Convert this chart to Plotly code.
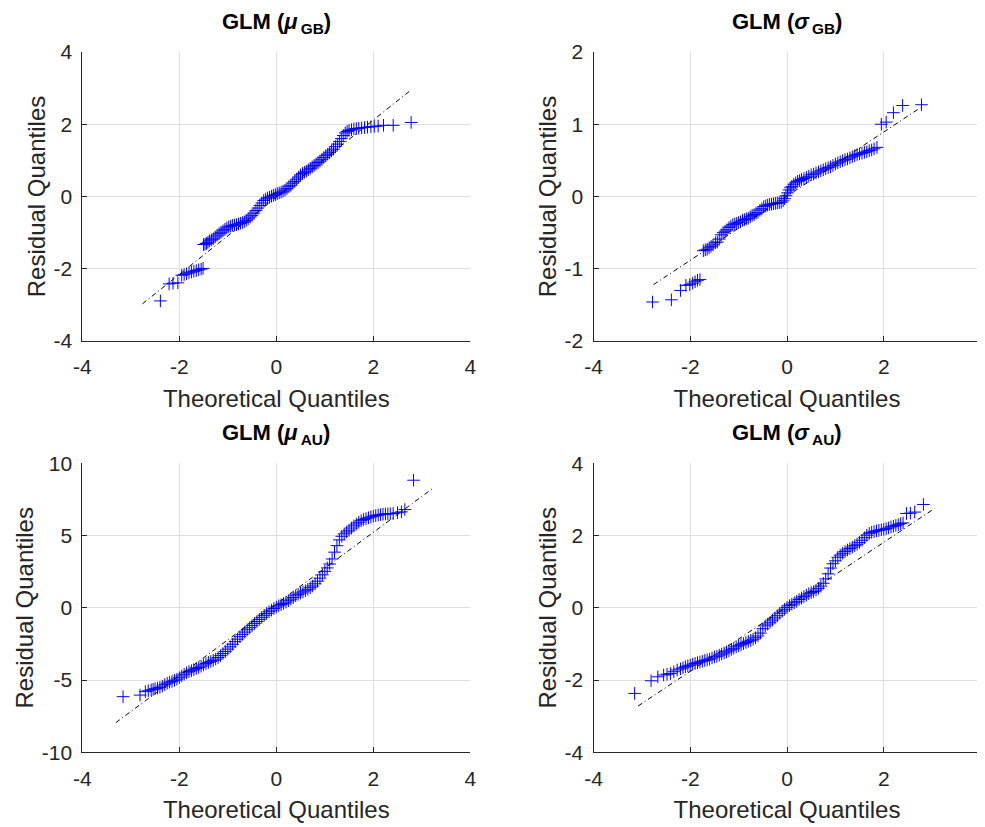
import plotly.graph_objects as go

# page body has an 8px margin, so the figure is drawn from (8, 8)
OFF = 8
W, H = 985 - OFF, 827 - OFF

# ---------------- data ----------------
titles = ["<b>GLM (<i>μ</i><sub>\u2009GB</sub>)</b>", "<b>GLM (<i>σ</i><sub>\u2009GB</sub>)</b>",
          "<b>GLM (<i>μ</i><sub>\u2009AU</sub>)</b>", "<b>GLM (<i>σ</i><sub>\u2009AU</sub>)</b>"]
x_label = "Theoretical Quantiles"
y_label = "Residual Quantiles"

p1_x = [-2.39, -2.21, -2.13, -2.03, -1.95, -1.90, -1.85, -1.80, -1.75, -1.70, -1.65, -1.60, -1.55, -1.51,
        -1.50, -1.47, -1.44, -1.41, -1.38, -1.34, -1.30, -1.26, -1.22, -1.18, -1.14, -1.10, -1.06, -1.02,
        -0.98, -0.94, -0.90, -0.86, -0.82, -0.78, -0.74, -0.70, -0.66, -0.62, -0.58, -0.54, -0.50, -0.46,
        -0.42, -0.38, -0.34, -0.30, -0.26, -0.22, -0.18, -0.14, -0.10, -0.06, -0.02, 0.02, 0.06, 0.10,
        0.14, 0.18, 0.22, 0.26, 0.30, 0.34, 0.38, 0.42, 0.46, 0.50, 0.54, 0.58, 0.62, 0.66, 0.70, 0.74,
        0.78, 0.82, 0.86, 0.90, 0.94, 0.98, 1.02, 1.06, 1.10, 1.14, 1.18, 1.22, 1.26, 1.30, 1.34, 1.38,
        1.42, 1.46, 1.50, 1.55, 1.60, 1.65, 1.70, 1.76, 1.82, 1.88, 1.95, 2.02, 2.10, 2.21, 2.41, 2.78]
p1_y = [-2.89, -2.42, -2.40, -2.39, -2.18, -2.16, -2.14, -2.11, -2.09, -2.07, -2.05, -2.03, -2.01, -1.99,
        -1.33, -1.32, -1.30, -1.27, -1.23, -1.20, -1.17, -1.12, -1.07, -1.03, -0.99, -0.95, -0.91, -0.87,
        -0.84, -0.82, -0.80, -0.79, -0.78, -0.76, -0.74, -0.72, -0.70, -0.66, -0.62, -0.57, -0.52, -0.46,
        -0.39, -0.32, -0.25, -0.18, -0.11, -0.07, -0.04, -0.02, 0.01, 0.03, 0.05, 0.08, 0.10, 0.12,
        0.15, 0.18, 0.22, 0.27, 0.31, 0.37, 0.42, 0.48, 0.54, 0.60, 0.64, 0.67, 0.70, 0.74, 0.78, 0.82,
        0.86, 0.90, 0.94, 0.98, 1.03, 1.08, 1.13, 1.17, 1.21, 1.26, 1.31, 1.38, 1.45, 1.52, 1.60, 1.69,
        1.76, 1.80, 1.83, 1.85, 1.87, 1.88, 1.89, 1.90, 1.91, 1.92, 1.93, 1.94, 1.95, 1.97, 1.97, 2.05]

p2_x = [-2.78, -2.39, -2.20, -2.09, -2.01, -1.95, -1.90, -1.85, -1.80,
        -1.73, -1.69, -1.65, -1.61, -1.57, -1.53, -1.48, -1.44, -1.40, -1.36, -1.32, -1.28, -1.24, -1.20,
        -1.16, -1.12, -1.08, -1.04, -1.00, -0.96, -0.92, -0.88, -0.84, -0.80, -0.76, -0.72, -0.68, -0.64,
        -0.60, -0.56, -0.52, -0.48, -0.44, -0.40, -0.36, -0.32, -0.28, -0.24, -0.20, -0.16, -0.12, -0.08,
        -0.05, -0.02, 0.01, 0.04, 0.07, 0.10, 0.14, 0.18, 0.22, 0.26, 0.30, 0.35, 0.40, 0.45, 0.50, 0.55,
        0.60, 0.65, 0.70, 0.75, 0.80, 0.85, 0.90, 0.95, 1.00, 1.05, 1.10, 1.15, 1.20, 1.25, 1.30, 1.35,
        1.40, 1.45, 1.50, 1.55, 1.60, 1.65, 1.70, 1.75, 1.80, 1.86,
        1.95, 2.05, 2.20, 2.39, 2.78]
p2_y = [-1.46, -1.43, -1.30, -1.23, -1.22, -1.20, -1.18, -1.16, -1.15,
        -0.75, -0.74, -0.73, -0.71, -0.69, -0.67, -0.64, -0.63, -0.59, -0.53, -0.50, -0.48, -0.46, -0.43,
        -0.41, -0.39, -0.38, -0.37, -0.36, -0.35, -0.33, -0.32, -0.31, -0.30, -0.28, -0.26, -0.25, -0.23,
        -0.22, -0.19, -0.17, -0.14, -0.13, -0.12, -0.11, -0.105, -0.10, -0.095, -0.09, -0.085, -0.08, -0.06,
        -0.03, 0.01, 0.05, 0.09, 0.12, 0.14, 0.17, 0.19, 0.21, 0.22, 0.235, 0.25, 0.265, 0.28, 0.30, 0.31,
        0.325, 0.34, 0.355, 0.37, 0.385, 0.40, 0.41, 0.43, 0.45, 0.465, 0.48, 0.495, 0.51, 0.52, 0.535, 0.55,
        0.565, 0.58, 0.59, 0.60, 0.61, 0.62, 0.635, 0.645, 0.66, 0.68,
        1.00, 1.03, 1.16, 1.26, 1.27]

p3_x = [-3.16, -2.81, -2.70, -2.64, -2.58, -2.54,
        -2.50, -2.45, -2.40, -2.35, -2.30, -2.25, -2.20, -2.15, -2.10, -2.05, -2.00, -1.95, -1.90, -1.85,
        -1.80, -1.75, -1.70, -1.65, -1.60, -1.55, -1.50, -1.45, -1.40, -1.35, -1.30, -1.25, -1.20, -1.15,
        -1.10, -1.05, -1.00, -0.95, -0.90, -0.85, -0.80, -0.75, -0.70, -0.65, -0.60, -0.55, -0.50, -0.45,
        -0.40, -0.35, -0.30, -0.25, -0.20, -0.15, -0.10, -0.05, 0.00, 0.05, 0.10, 0.15, 0.20, 0.25, 0.30,
        0.35, 0.40, 0.45, 0.50, 0.55, 0.60, 0.65, 0.70, 0.75, 0.80, 0.85, 0.90, 0.95, 1.00, 1.05, 1.10,
        1.15, 1.20, 1.25, 1.30, 1.35, 1.40, 1.45, 1.50, 1.55, 1.60, 1.65, 1.70, 1.75, 1.80, 1.85, 1.90,
        1.95, 2.00, 2.05, 2.10, 2.15, 2.20, 2.25, 2.30, 2.35, 2.41, 2.50, 2.58, 2.65, 2.83]
p3_y = [-6.15, -6.04, -5.80, -5.74, -5.68, -5.65,
        -5.60, -5.56, -5.51, -5.42, -5.32, -5.22, -5.15, -5.09, -5.02, -4.94, -4.84, -4.72, -4.60, -4.50,
        -4.42, -4.35, -4.28, -4.20, -4.13, -4.04, -3.95, -3.86, -3.78, -3.71, -3.64, -3.55, -3.44, -3.31,
        -3.17, -3.02, -2.86, -2.70, -2.52, -2.34, -2.17, -2.00, -1.84, -1.68, -1.52, -1.38, -1.23, -1.08,
        -0.95, -0.80, -0.66, -0.52, -0.39, -0.27, -0.16, -0.05, 0.05, 0.14, 0.22, 0.30, 0.39, 0.49, 0.60,
        0.71, 0.83, 0.93, 1.02, 1.10, 1.18, 1.28, 1.39, 1.51, 1.66, 1.84, 2.05, 2.28, 2.52, 2.76, 3.03,
        3.38, 3.85, 4.30, 4.70, 4.95, 5.12, 5.25, 5.37, 5.52, 5.67, 5.80, 5.92, 6.03, 6.11, 6.17, 6.23,
        6.29, 6.34, 6.38, 6.42, 6.45, 6.48, 6.49, 6.50, 6.51, 6.52, 6.58, 6.64, 6.80, 8.83]

p4_x = [-3.15, -2.81, -2.67, -2.55, -2.48, -2.41, -2.34, -2.27, -2.20,
        -2.15, -2.10, -2.05, -2.00, -1.95, -1.90, -1.85, -1.80, -1.75, -1.70, -1.65, -1.60, -1.55, -1.50,
        -1.45, -1.40, -1.35, -1.30, -1.25, -1.20, -1.15, -1.10, -1.05, -1.00, -0.95, -0.90, -0.85, -0.80,
        -0.75, -0.70, -0.65, -0.60, -0.55, -0.50, -0.45, -0.40, -0.35, -0.30, -0.25, -0.20, -0.15, -0.10,
        -0.05, 0.00, 0.05, 0.10, 0.15, 0.20, 0.25, 0.30, 0.35, 0.40, 0.45, 0.50, 0.55, 0.60, 0.65, 0.70,
        0.75, 0.80, 0.85, 0.90, 0.95, 1.00, 1.05, 1.10, 1.15, 1.20, 1.25, 1.30, 1.35, 1.40, 1.45, 1.50,
        1.55, 1.60, 1.65, 1.70, 1.75, 1.80, 1.85, 1.90, 1.95, 2.00, 2.05, 2.10, 2.15, 2.20, 2.25, 2.30,
        2.35, 2.40, 2.47, 2.55, 2.64, 2.82]
p4_y = [-2.37, -2.02, -1.91, -1.86, -1.84, -1.82, -1.77, -1.72, -1.69,
        -1.66, -1.63, -1.61, -1.59, -1.56, -1.54, -1.52, -1.50, -1.48, -1.46, -1.44, -1.42, -1.39, -1.36,
        -1.34, -1.31, -1.28, -1.25, -1.22, -1.19, -1.15, -1.12, -1.08, -1.05, -1.02, -0.99, -0.96, -0.93,
        -0.90, -0.87, -0.83, -0.78, -0.70, -0.58, -0.50, -0.45, -0.40, -0.34, -0.28, -0.22, -0.15, -0.09,
        -0.04, 0.01, 0.06, 0.10, 0.14, 0.18, 0.23, 0.27, 0.31, 0.35, 0.39, 0.42, 0.45, 0.49, 0.54, 0.60,
        0.68, 0.80, 0.94, 1.10, 1.22, 1.30, 1.40, 1.46, 1.51, 1.56, 1.60, 1.64, 1.68, 1.72, 1.76, 1.81,
        1.87, 1.94, 2.01, 2.06, 2.09, 2.11, 2.13, 2.145, 2.16, 2.17, 2.19, 2.21, 2.24, 2.26, 2.28, 2.30,
        2.33, 2.35, 2.61, 2.62, 2.65, 2.86]

# reference (fit) lines: endpoints
p1_line_x, p1_line_y = [-2.76, 2.78], [-2.97, 2.95]
p2_line_x, p2_line_y = [-2.76, 2.76], [-1.22, 1.23]
p3_line_x, p3_line_y = [-3.31, 3.22], [-7.95, 8.25]
p4_line_x, p4_line_y = [-3.08, 3.05], [-2.72, 2.75]

x_tickvals = [-4, -2, 0, 2, 4]
x_ticktext = ["-4", "-2", "0", "2", "4"]
y_tickvals = [[-4, -2, 0, 2, 4], [-2, -1, 0, 1, 2], [-10, -5, 0, 5, 10], [-4, -2, 0, 2, 4]]
y_ticktext = [["-4", "-2", "0", "2", "4"], ["-2", "-1", "0", "1", "2"],
              ["-10", "-5", "0", "5", "10"], ["-4", "-2", "0", "2", "4"]]
y_ranges = [[-4, 4], [-2, 2], [-10, 10], [-4, 4]]
x_range = [-4, 4]

# ---------------- layout geometry (reference-window pixels) ----------------
cols_px = [(82.3, 470.3), (593.5, 980.5)]
rows_px = [(52.0, 341.0), (463.3, 752.3)]

FONT = "Liberation Sans, Arial, Helvetica, sans-serif"
AX_COL = "rgb(38,38,38)"
GRID_COL = "rgb(223,223,223)"

fig = go.Figure()
panels = [(p1_x, p1_y, p1_line_x, p1_line_y), (p2_x, p2_y, p2_line_x, p2_line_y),
          (p3_x, p3_y, p3_line_x, p3_line_y), (p4_x, p4_y, p4_line_x, p4_line_y)]

annotations = []
for i, (px, py, lx, ly) in enumerate(panels):
    r, c = divmod(i, 2)
    xa = "x" if i == 0 else f"x{i+1}"
    ya = "y" if i == 0 else f"y{i+1}"
    fig.add_trace(go.Scatter(x=px, y=py, mode="markers", xaxis=xa, yaxis=ya,
                             marker=dict(symbol="cross-thin", size=9, color="rgb(0,0,255)",
                                         line=dict(width=1, color="rgb(0,0,255)")),
                             showlegend=False, hoverinfo="x+y"))
    fig.add_trace(go.Scatter(x=lx, y=ly, mode="lines", xaxis=xa, yaxis=ya,
                             line=dict(color="black", width=1, dash="5px,3px,1px,3px"),
                             showlegend=False, hoverinfo="skip"))
    x0, x1 = (v - OFF for v in cols_px[c])
    y0, y1 = (v - OFF for v in rows_px[r])
    xdom = [x0 / W, x1 / W]
    ydom = [1 - y1 / H, 1 - y0 / H]
    key = "" if i == 0 else str(i + 1)
    fig.layout["xaxis" + key] = dict(
        domain=xdom, range=x_range, tickmode="array", tickvals=x_tickvals, ticktext=x_ticktext,
        anchor=ya, showline=True, linecolor=AX_COL, automargin=False,
        linewidth=1, mirror=False, ticks="inside", ticklen=5, tickcolor=AX_COL, showgrid=True,
        gridcolor=GRID_COL, gridwidth=1, zeroline=False, tickfont=dict(family=FONT, size=21, color=AX_COL),
        ticklabelstandoff=7,
        title=dict(text=x_label, font=dict(family=FONT, size=24, color=AX_COL), standoff=12))
    fig.layout["yaxis" + key] = dict(
        domain=ydom, range=y_ranges[i], tickmode="array", tickvals=y_tickvals[i], ticktext=y_ticktext[i],
        anchor=xa, showline=True, linecolor=AX_COL, automargin=False,
        linewidth=1, mirror=False, ticks="inside", ticklen=5, tickcolor=AX_COL, showgrid=True,
        gridcolor=GRID_COL, gridwidth=1, zeroline=False, tickfont=dict(family=FONT, size=21, color=AX_COL),
        ticklabelstandoff=5,
        title=dict(text=y_label, font=dict(family=FONT, size=24, color=AX_COL), standoff=1))
    annotations.append(dict(text=titles[i], x=(x0 + x1) / 2 / W, y=1 - (y0 - 29) / H,
                            xref="paper", yref="paper", xanchor="center", yanchor="middle",
                            showarrow=False, font=dict(family=FONT, size=22, color="black")))

fig.update_layout(width=W, height=H, autosize=False, margin=dict(l=0, r=0, t=0, b=0),
                  paper_bgcolor="white", plot_bgcolor="white", annotations=annotations)

fig.write_html("out.html")
